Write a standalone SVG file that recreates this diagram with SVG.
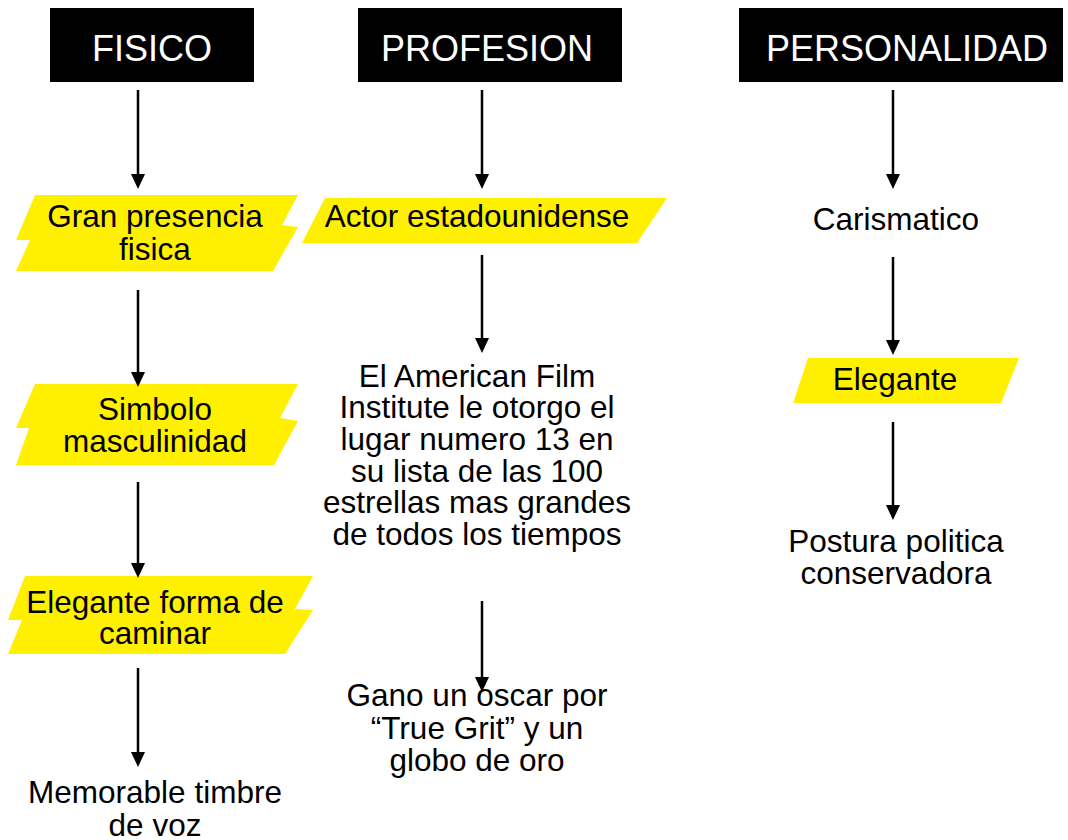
<svg xmlns="http://www.w3.org/2000/svg" width="1068" height="840" viewBox="0 0 1068 840">
<style>
.hdr{fill:#000}
.ht{font-family:"Liberation Sans",Arial,sans-serif;font-size:36px;fill:#fff;text-anchor:middle}
.t{font-family:"Liberation Sans",Arial,sans-serif;font-size:31.5px;fill:#000;text-anchor:middle}
.y{fill:#FFF000}
.c line{stroke:#000;stroke-width:2.5;fill:none}
</style>
<defs>
<marker id="ah" viewBox="0 0 15 14" refX="9" refY="7" markerWidth="15" markerHeight="14" markerUnits="userSpaceOnUse" orient="auto">
<path d="M0,0 L15,7 L0,14 Z" fill="#000"/>
</marker>
</defs>
<rect width="1068" height="840" fill="#fff"/>

<g id="fisico"><rect class="hdr" x="50" y="8" width="204" height="74"/><text class="ht" x="152" y="61">FISICO</text></g>
<g id="profesion"><rect class="hdr" x="358" y="8" width="264" height="74"/><text class="ht" x="487" y="61">PROFESION</text></g>
<g id="personalidad"><rect class="hdr" x="739" y="8" width="324" height="74"/><text class="ht" x="907" y="61">PERSONALIDAD</text></g>

<g id="gran-presencia"><path class="y" d="M35,195 L298,195 L282,225 L298,227 L273,271 L16,271 L30,240 L16,240 Z"/><text class="t" x="155" y="227">Gran presencia</text><text class="t" x="155" y="260">fisica</text></g>
<g id="simbolo"><path class="y" d="M35,384 L298,384 L280,418 L298,421 L274,465 L16,465 L29,428 L16,428 Z"/><text class="t" x="155" y="420">Simbolo</text><text class="t" x="155" y="452">masculinidad</text></g>
<g id="elegante-forma"><path class="y" d="M25,576 L313,576 L295,609 L313,610 L285,654 L8,654 L22,620 L8,620 Z"/><text class="t" x="155" y="613">Elegante forma de</text><text class="t" x="155" y="644">caminar</text></g>
<g id="memorable"><text class="t" x="155" y="803">Memorable timbre</text><text class="t" x="155" y="836">de voz</text></g>

<g id="actor"><path class="y" d="M325,198 L667,198 L637,243 L302,243 Z"/><text class="t" x="477" y="227">Actor estadounidense</text></g>
<g id="afi"><text class="t" x="477" y="387">El American Film</text><text class="t" x="477" y="418">Institute le otorgo el</text><text class="t" x="477" y="450">lugar numero 13 en</text><text class="t" x="477" y="482">su lista de las 100</text><text class="t" x="477" y="513">estrellas mas grandes</text><text class="t" x="477" y="545">de todos los tiempos</text></g>
<g id="oscar"><text class="t" x="477" y="706">Gano un oscar por</text><text class="t" x="477" y="739">“True Grit” y un</text><text class="t" x="477" y="771">globo de oro</text></g>

<g id="carismatico"><text class="t" x="896" y="230">Carismatico</text></g>
<g id="elegante"><path class="y" d="M808,358 L1019,358 L1001,403 L793,403 Z"/><text class="t" x="895" y="390">Elegante</text></g>
<g id="postura"><text class="t" x="896" y="552">Postura politica</text><text class="t" x="896" y="584">conservadora</text></g>

<g id="connectors" class="c">
<line x1="138" y1="90" x2="138" y2="183" marker-end="url(#ah)"/>
<line x1="482" y1="90" x2="482" y2="183" marker-end="url(#ah)"/>
<line x1="893" y1="90" x2="893" y2="183" marker-end="url(#ah)"/>
<line x1="138" y1="290" x2="138" y2="381" marker-end="url(#ah)"/>
<line x1="138" y1="482" x2="138" y2="572" marker-end="url(#ah)"/>
<line x1="138" y1="668" x2="138" y2="761" marker-end="url(#ah)"/>
<line x1="482" y1="255" x2="482" y2="347" marker-end="url(#ah)"/>
<line x1="482" y1="601" x2="482" y2="686" marker-end="url(#ah)"/>
<line x1="893" y1="257" x2="893" y2="349" marker-end="url(#ah)"/>
<line x1="893" y1="422" x2="893" y2="514" marker-end="url(#ah)"/>
</g>
</svg>
